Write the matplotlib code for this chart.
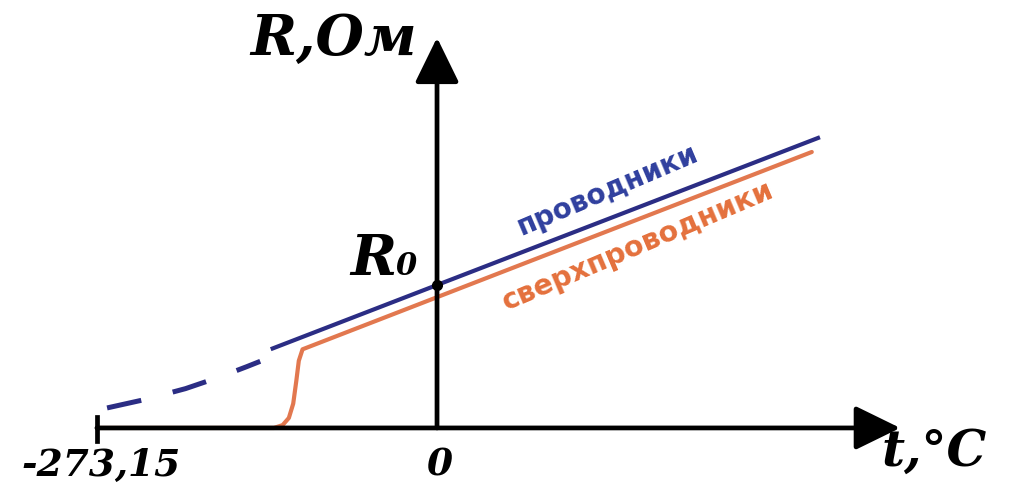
import numpy as np
import matplotlib.pyplot as plt

# temperature (deg C) and resistance (Ohm, R0 = 100)
t_cond_dash = [-265, -235, -202, -175, -153, -142]
r_cond_dash = [14, 19.8, 27.5, 35.5, 42.8, 46.6]
t_cond = [-132, 306]
r_cond = [55.6, 202.8]

t_super = [-273.15, -131, -124, -119, -115.5, -113, -111, -108, 301]
r_super = [0, 0, 2, 7, 17, 33, 47, 55, 193]

R0 = 100
t_min = -273.15

blue = '#2b2d84'
orange = '#e2784f'

fig = plt.figure(figsize=(10.1, 4.82), dpi=100)
ax = fig.add_axes([0, 0, 1, 1])
ax.set_xlim(-351.0, 460.2)
ax.set_ylim(-37.8, 299.3)
ax.axis('off')

# axes with arrows
arr = dict(arrowstyle='-|>,head_length=0.45,head_width=0.22', lw=3.4,
           color='black', mutation_scale=62, shrinkA=0, shrinkB=0)
ax.annotate('', xy=(372, 0), xytext=(t_min, 0), arrowprops=arr, zorder=3)
ax.annotate('', xy=(0, 273), xytext=(0, 0), arrowprops=arr, zorder=3)
ax.plot([t_min, t_min], [-9, 8], color='black', lw=3.4, zorder=3)

# curves
ax.plot(t_super, r_super, color=orange, lw=3, solid_capstyle='round', zorder=2)
ax.plot(t_cond_dash, r_cond_dash, color=blue, lw=3.6, dashes=(7, 6.5), zorder=2)
ax.plot(t_cond, r_cond, color=blue, lw=3, zorder=2)
ax.plot([0], [R0], 'o', color='black', ms=7, zorder=4)

serif = dict(family='DejaVu Serif', weight='bold', style='italic', color='black')
ax.text(-150, 261, 'R,Ом', fontsize=40, ha='left', va='baseline', **serif)
ax.text(-70, 107, 'R', fontsize=40, ha='left', va='baseline', **serif)
ax.text(-33, 107, '0', fontsize=22, ha='left', va='baseline', **serif)
ax.text(t_min + 3, -33.5, '-273,15', fontsize=27, ha='center', va='baseline', **serif)
ax.text(2, -33.5, '0', fontsize=27, ha='center', va='baseline', **serif)
ax.text(357, -26.5, 't,°C', fontsize=36, ha='left', va='baseline', **serif)

ax.text(137, 166, 'проводники', fontsize=20, fontweight='bold', color='#2f3f9e',
        rotation=23, rotation_mode='anchor', ha='center', va='center')
ax.text(161, 127, 'сверхпроводники', fontsize=20.5, fontweight='bold', color='#e4703c',
        rotation=23, rotation_mode='anchor', ha='center', va='center')

plt.savefig('out.png', dpi=100)
